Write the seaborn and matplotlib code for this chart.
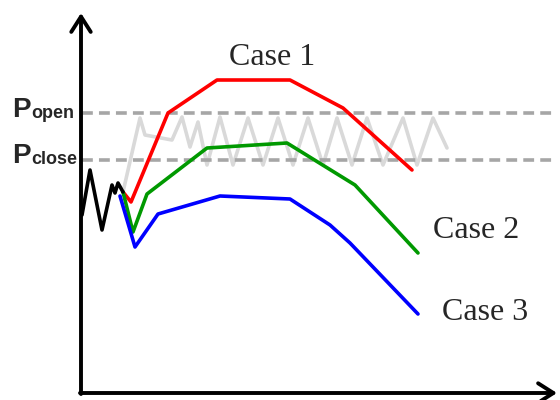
import numpy as np
import pandas as pd
import matplotlib
matplotlib.use("Agg")
import matplotlib.pyplot as plt
import seaborn as sns

sns.set_theme(style="white")
plt.rcParams['font.family'] = ['Liberation Sans', 'DejaVu Sans']

# traces (x = time, y = pressure, arbitrary units)
black_x = [1, 9, 21, 31, 34, 37, 42]
black_y = [178, 223, 163, 208, 200, 210, 201]

gray_x = [42, 59, 64, 91, 101, 109, 117, 126, 139, 152, 167, 182, 197, 212,
          227, 242, 256, 271, 286, 302, 322, 336, 352, 366]
gray_y = [201, 275, 258, 253, 276, 246, 271, 228, 276, 228, 275, 228, 275, 228,
          275, 228, 275, 228, 275, 228, 275, 228, 275, 245]

case1_x = [42, 50, 87, 136, 209, 262, 331]
case1_y = [201, 191, 280, 313, 313, 285, 223]

case2_x = [42, 52, 66, 126, 206, 274, 337]
case2_y = [201, 161, 199, 245, 250, 208, 140]

case3_x = [39, 54, 77, 139, 209, 249, 269, 337]
case3_y = [197, 146, 179, 197, 194, 168, 150, 79]

p_open = 280
p_close = 233

fig = plt.figure(figsize=(5.6, 4), dpi=100)
ax = fig.add_axes([81 / 560, 7 / 400, 479 / 560, 393 / 400])
ax.set_xlim(0, 479)
ax.set_ylim(0, 393)
ax.axis('off')

lw = 2.6
sns.lineplot(x=gray_x, y=gray_y, sort=False, estimator=None, ax=ax,
             color='#d9d9d9', lw=lw)
for level in [p_open, p_close]:
    ax.hlines(level, 1, 476, colors='#a6a6a6', lw=lw, linestyles=(0, (3.0, 1.7)))

traces = [(case1_x, case1_y, '#ff0000'),
          (case2_x, case2_y, '#009900'),
          (case3_x, case3_y, '#0000ff'),
          (black_x, black_y, '#000000')]
for xs, ys, c in traces:
    sns.lineplot(x=xs, y=ys, sort=False, estimator=None, ax=ax, color=c, lw=lw,
                 clip_on=False)

# axes with arrow heads
arrow = dict(arrowstyle='->,head_length=0.55,head_width=0.35', lw=2.8,
             color='black', shrinkA=0, shrinkB=0, mutation_scale=20)
ax.annotate('', xy=(0, 380), xytext=(0, -1), arrowprops=arrow, annotation_clip=False)
ax.annotate('', xy=(476, 0), xytext=(-1, 0), arrowprops=arrow, annotation_clip=False)

# threshold labels
for level, sub, base in [(p_open, 'open', 276), (p_close, 'close', 230)]:
    ax.text(-69, base, 'P', fontsize=20, fontweight='bold', ha='left',
            va='baseline', clip_on=False)
    ax.text(-50, base - 1, sub, fontsize=13, fontweight='bold', ha='left',
            va='baseline', clip_on=False)

serif = dict(family='Liberation Serif', fontsize=23, va='baseline', clip_on=False)
ax.text(191, 328, 'Case 1', ha='center', **serif)
ax.text(352, 155, 'Case 2', ha='left', **serif)
ax.text(361, 73, 'Case 3', ha='left', **serif)

fig.savefig('out.png', dpi=100)
